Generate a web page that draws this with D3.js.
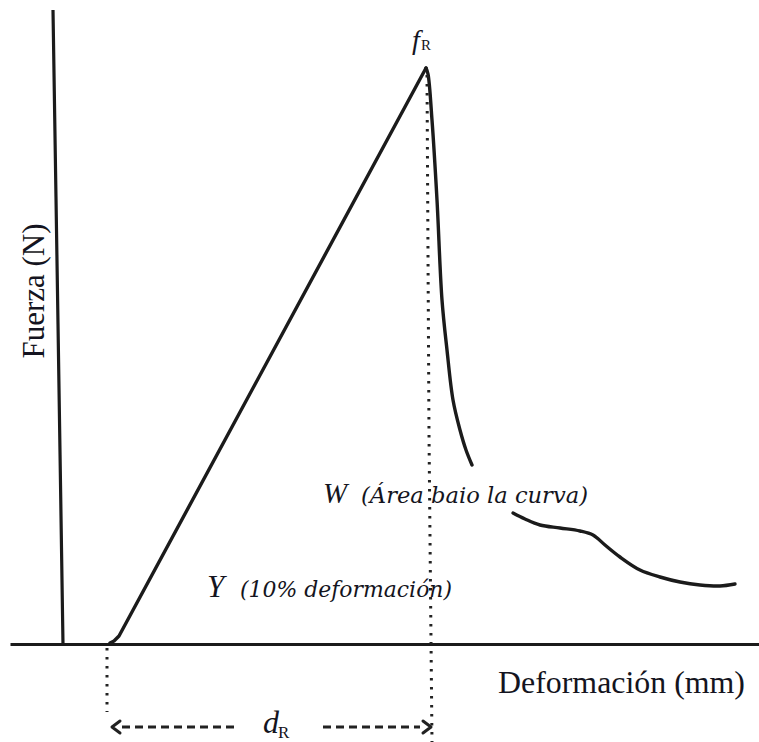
<!DOCTYPE html>
<html>
<head>
<meta charset="utf-8">
<script src="https://cdn.jsdelivr.net/npm/d3@7"></script>
<style>
  body { margin: 0; background: #fff; }
  svg { display: block; }
  .lbl { fill: #141420; }
</style>
</head>
<body>
<svg id="chart" width="759" height="742"></svg>
<script>
// datos del esquema (unidades arbitrarias, origen en el cruce de ejes)
var subida = [
  {x: 4.7, y: 0.1}, {x: 5.1, y: 0.3}, {x: 5.6, y: 0.8}, {x: 36.3, y: 57.6}
];
var caida = [
  {x: 36.3, y: 57.6}, {x: 36.5, y: 57.0}, {x: 36.9, y: 52.4}, {x: 37.4, y: 44.4},
  {x: 37.9, y: 34.4}, {x: 38.4, y: 29.4}, {x: 39.0, y: 24.4}, {x: 39.7, y: 21.4},
  {x: 40.3, y: 19.4}, {x: 40.9, y: 17.9}
];
var cola = [
  {x: 45.0, y: 13.1}, {x: 46.2, y: 12.5}, {x: 47.7, y: 11.9}, {x: 49.7, y: 11.6},
  {x: 51.7, y: 11.3}, {x: 53.0, y: 10.9}, {x: 54.2, y: 9.9}, {x: 55.7, y: 8.7},
  {x: 57.7, y: 7.4}, {x: 59.7, y: 6.7}, {x: 61.7, y: 6.2}, {x: 63.7, y: 5.9},
  {x: 65.7, y: 5.8}, {x: 67.2, y: 6.0}
];
var ejeY = [{x: -1.0, y: 63.4}, {x: -0.5, y: 32}, {x: 0, y: 0}];
var punteadaPico = [{x: 36.4, y: 56.9}, {x: 36.6, y: 21}, {x: 36.9, y: -9.8}];
var punteadaInicio = [{x: 4.4, y: -0.4}, {x: 4.4, y: -6.8}];
var cotaY = -8.3;
var cotaTramos = [[5.9, 17.2], [26.0, 35.7]];
var cotaPuntas = [4.9, 36.8];

var serif = "'Liberation Serif', 'Times New Roman', serif";
var cursiva = "'DejaVu Serif', serif";
var textos = [
  {t: "W", x: 26.0, y: 14.1, size: 29, fuente: serif, estilo: "italic"},
  {t: "(Área baio la curva)", x: 29.8, y: 14.1, size: 23, fuente: cursiva, estilo: "italic", largo: 227},
  {t: "Y", x: 14.4, y: 4.7, size: 31, fuente: serif, estilo: "italic"},
  {t: "(10% deformación)", x: 17.7, y: 4.7, size: 23, fuente: cursiva, estilo: "italic", largo: 212},
  {t: "Deformación (mm)", x: 43.5, y: -4.9, size: 31, fuente: serif, estilo: "normal", largo: 247},
  {t: "f", x: 34.9, y: 59.5, size: 28, fuente: serif, estilo: "italic"},
  {t: "R", x: 35.8, y: 59.4, size: 15, fuente: serif, estilo: "normal"},
  {t: "d", x: 20.0, y: -8.9, size: 32, fuente: serif, estilo: "italic"},
  {t: "R", x: 21.5, y: -9.4, size: 17, fuente: serif, estilo: "normal"}
];

var svg = d3.select("#chart");
var xScale = d3.scaleLinear().domain([-5.3, 69.6]).range([10, 759]);
var yScale = d3.scaleLinear().domain([-9.8, 63.6]).range([742, 8]);

var linea = d3.line()
  .x(function(d) { return xScale(d.x); })
  .y(function(d) { return yScale(d.y); });
var lineaSuave = d3.line()
  .x(function(d) { return xScale(d.x); })
  .y(function(d) { return yScale(d.y); })
  .curve(d3.curveCatmullRom);

var tinta = "#1b1b1b";

// eje x
svg.append("g")
  .attr("transform", "translate(0," + yScale(0) + ")")
  .call(d3.axisBottom(xScale).tickValues([]).tickSizeOuter(0))
  .select(".domain")
  .attr("stroke", tinta)
  .attr("stroke-width", 3.2);

// eje y (trazo a mano, algo inclinado)
svg.append("path")
  .attr("d", lineaSuave(ejeY))
  .attr("fill", "none")
  .attr("stroke", tinta)
  .attr("stroke-width", 3.2);

// curva
[[subida, linea], [caida, lineaSuave], [cola, lineaSuave]].forEach(function(s) {
  svg.append("path")
    .attr("d", s[1](s[0]))
    .attr("fill", "none")
    .attr("stroke", tinta)
    .attr("stroke-width", 3.4)
    .attr("stroke-linejoin", "round")
    .attr("stroke-linecap", "round");
});

// lineas punteadas
[punteadaPico, punteadaInicio].forEach(function(p) {
  svg.append("path")
    .attr("d", linea(p))
    .attr("fill", "none")
    .attr("stroke", "#222")
    .attr("stroke-width", 3)
    .attr("stroke-dasharray", "2.6,6.4");
});

// cota d_R
cotaTramos.forEach(function(t) {
  svg.append("line")
    .attr("x1", xScale(t[0])).attr("x2", xScale(t[1]))
    .attr("y1", yScale(cotaY)).attr("y2", yScale(cotaY))
    .attr("stroke", "#222")
    .attr("stroke-width", 3)
    .attr("stroke-dasharray", "8,5");
});
cotaPuntas.forEach(function(px, i) {
  var dir = i === 0 ? 1 : -1;
  var cx = xScale(px), cy = yScale(cotaY);
  svg.append("path")
    .attr("d", "M" + (cx + dir * 8) + "," + (cy - 6) + "L" + cx + "," + cy + "L" + (cx + dir * 8) + "," + (cy + 6))
    .attr("fill", "none")
    .attr("stroke", "#222")
    .attr("stroke-width", 3)
    .attr("stroke-linejoin", "round")
    .attr("stroke-linecap", "round");
});

// textos
textos.forEach(function(d) {
  var t = svg.append("text")
    .attr("class", "lbl")
    .attr("x", xScale(d.x))
    .attr("y", yScale(d.y))
    .attr("font-family", d.fuente)
    .attr("font-size", d.size)
    .attr("font-style", d.estilo)
    .text(d.t);
  if (d.largo) t.attr("textLength", d.largo).attr("lengthAdjust", "spacingAndGlyphs");
});

svg.append("text")
  .attr("class", "lbl")
  .attr("transform", "translate(" + xScale(-1.9) + "," + yScale(35.3) + ") rotate(-90)")
  .attr("text-anchor", "middle")
  .attr("font-family", serif)
  .attr("font-size", 31)
  .text("Fuerza (N)");
</script>
</body>
</html>
